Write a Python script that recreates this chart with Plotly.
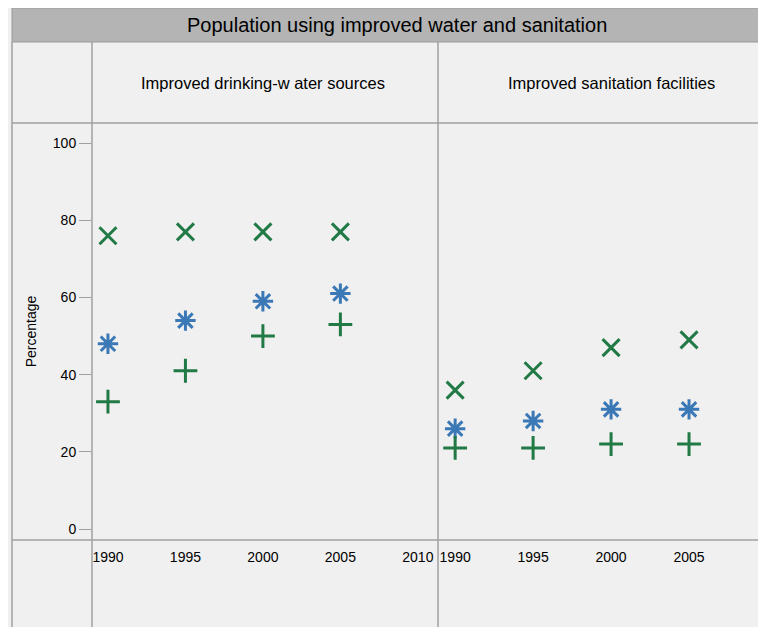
import plotly.graph_objects as go

years = [1990, 1995, 2000, 2005]
water_x = [76, 77, 77, 77]
water_star = [48, 54, 59, 61]
water_plus = [33, 41, 50, 53]
san_x = [36, 41, 47, 49]
san_star = [26, 28, 31, 31]
san_plus = [21, 21, 22, 22]
panel_titles = ["Improved drinking-w ater sources", "Improved sanitation facilities"]

W, H = 766, 627
OFF = 8  # page margin offset
GREEN = "#217a45"
BLUE = "#3b78b6"
LINE = "#a0a0a0"

def px(x):
    return (x - OFF) / W

def py(y):
    return 1 - (y - OFF) / H

fig = go.Figure()
series = [
    (water_x, san_x, "x-thin-open", GREEN),
    (water_star, san_star, "asterisk-open", BLUE),
    (water_plus, san_plus, "cross-thin-open", GREEN),
]
for w, s, sym, col in series:
    for vals, xa, ya in [(w, "x", "y"), (s, "x2", "y2")]:
        fig.add_trace(go.Scatter(
            x=years, y=vals, mode="markers", xaxis=xa, yaxis=ya,
            marker=dict(symbol=sym, size=17, color=col, line=dict(color=col, width=3)),
            showlegend=False))

axis_font = dict(family="Liberation Sans, Arial", size=14, color="#000")
common_x = dict(range=[1988.97, 2011.3], tickvals=[1990, 1995, 2000, 2005, 2010],
                showgrid=False, zeroline=False, showline=False, ticks="",
                tickfont=axis_font, anchor="free", position=py(547))
fig.update_layout(
    width=W, height=H, margin=dict(l=0, r=0, t=0, b=0),
    paper_bgcolor="#f0f0f0", plot_bgcolor="rgba(0,0,0,0)",
    xaxis=dict(common_x, domain=[px(92), px(438)]),
    xaxis2=dict(common_x, domain=[px(438), px(774)], range=[1988.9, 2010.45]),
    yaxis=dict(domain=[py(540), py(123)], range=[-2.85, 105.2],
               tickvals=[0, 20, 40, 60, 80, 100], showgrid=False, zeroline=False,
               ticks="outside", ticklen=12, tickcolor=LINE, tickfont=axis_font,
               title=dict(text="Percentage", font=axis_font, standoff=12)),
    yaxis2=dict(domain=[py(540), py(123)], range=[-2.85, 105.2], anchor="x2",
                showticklabels=False, showgrid=False, zeroline=False),
)

shapes = [
    dict(type="rect", x0=px(12), x1=px(790), y0=py(42), y1=py(8),
         fillcolor="#b4b4b4", line=dict(color="#999", width=1)),
]
for x in [12, 92, 438]:
    shapes.append(dict(type="line", x0=px(x), x1=px(x), y0=py(42), y1=py(640),
                       line=dict(color=LINE, width=1.5)))
for y in [123, 540]:
    shapes.append(dict(type="line", x0=px(12), x1=px(790), y0=py(y), y1=py(y),
                       line=dict(color=LINE, width=1.5)))
for s in shapes:
    s.update(xref="paper", yref="paper", layer="below")
fig.update_layout(shapes=shapes)

fig.add_annotation(text="Population using improved water and sanitation",
                   x=px(397), y=py(25), xref="paper", yref="paper", showarrow=False,
                   xanchor="center", yanchor="middle",
                   font=dict(family="Liberation Sans, Arial", size=20, color="#000"))
for t, cx in zip(panel_titles, [263, 611]):
    fig.add_annotation(text=t, x=px(cx), y=py(83), xref="paper", yref="paper",
                       xanchor="center", yanchor="middle", showarrow=False,
                       font=dict(family="Liberation Sans, Arial", size=16.5, color="#000"))

fig.write_html("out.html")
